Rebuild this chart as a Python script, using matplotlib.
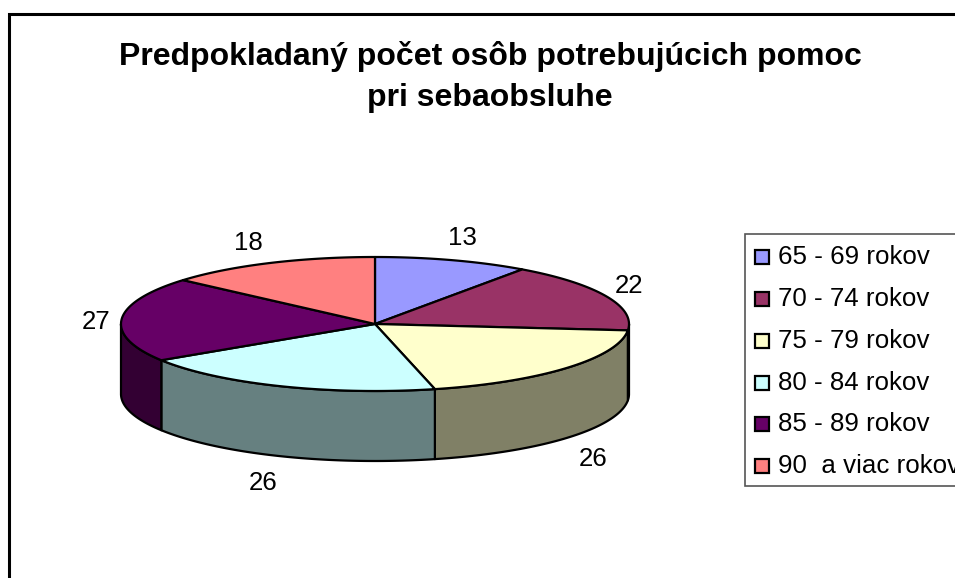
import numpy as np
import matplotlib
matplotlib.use("Agg")
import matplotlib.pyplot as plt
from matplotlib.patches import Polygon, Rectangle

categories = ["65 - 69 rokov", "70 - 74 rokov", "75 - 79 rokov", "80 - 84 rokov", "85 - 89 rokov", "90  a viac rokov"]
values = [13, 22, 26, 26, 27, 18]
colors = ["#9999FF", "#993366", "#FFFFCC", "#CCFFFF", "#660066", "#FF8080"]
side_colors = ["#4C4C80", "#4C1933", "#808066", "#668080", "#330033", "#804040"]
title_lines = ["Predpokladaný počet osôb potrebujúcich pomoc", "pri sebaobsluhe"]

W, H = 955, 578
plt.rcParams["font.family"] = ["Liberation Sans", "DejaVu Sans"]
fig = plt.figure(figsize=(W / 100, H / 100), dpi=100, facecolor="white")
ax = fig.add_axes([0, 0, 1, 1])
ax.set_xlim(0, W)
ax.set_ylim(H, 0)
ax.axis("off")

# outer frame
ax.add_patch(Rectangle((9, 13.5), W + 20, H + 20, fc="white", ec="black", lw=2.2, zorder=0))

# titles
ax.text(490, 57, title_lines[0], ha="center", va="center", fontsize=23, fontweight="bold", color="black")
ax.text(490, 98, title_lines[1], ha="center", va="center", fontsize=23, fontweight="bold", color="black")

# 3D pie geometry
cx, cy, rx, ry, depth = 375, 324, 254, 67, 70
edges = np.cumsum([0] + values) / sum(values) * 2 * np.pi

def arc(a0, a1, dy=0.0, n=120):
    t = np.linspace(a0, a1, n)
    return np.column_stack([cx + rx * np.sin(t), cy - ry * np.cos(t) + dy])

lw = 1.6
# side walls: only the front half of the rim (pi/2 .. 3pi/2 clockwise from top)
for i in range(len(values)):
    a0 = max(edges[i], np.pi / 2)
    a1 = min(edges[i + 1], 3 * np.pi / 2)
    if a1 <= a0:
        continue
    top = arc(a0, a1)
    bot = arc(a0, a1, depth)[::-1]
    ax.add_patch(Polygon(np.vstack([top, bot]), closed=True, fc=side_colors[i], ec="black", lw=lw, joinstyle="round", zorder=2))

# top faces
for i in range(len(values)):
    pts = np.vstack([[cx, cy], arc(edges[i], edges[i + 1])])
    ax.add_patch(Polygon(pts, closed=True, fc=colors[i], ec="black", lw=lw, joinstyle="round", zorder=3))

# data labels
label_xy = [(462, 238), (629, 286), (593, 459), (263, 483), (96, 322), (248, 243)]
for v, (x, y) in zip(values, label_xy):
    ax.text(x, y, str(v), ha="center", va="center", fontsize=18.6, color="black")

# legend
ax.add_patch(Rectangle((744.5, 233.5), W, 252, fc="white", ec="#555555", lw=1.2, zorder=1))
row_y = [257, 299, 341, 383, 424, 466]
marker_y = [256, 298, 340, 382, 423, 465]
for name, col, y, my in zip(categories, colors, row_y, marker_y):
    ax.add_patch(Rectangle((754.5, my - 6.5), 14, 14, fc=col, ec="black", lw=1.6, zorder=4))
    ax.text(778, y, name, ha="left", va="center", fontsize=18.6, color="black", clip_on=True, zorder=4)

fig.savefig("out.png", dpi=100)
